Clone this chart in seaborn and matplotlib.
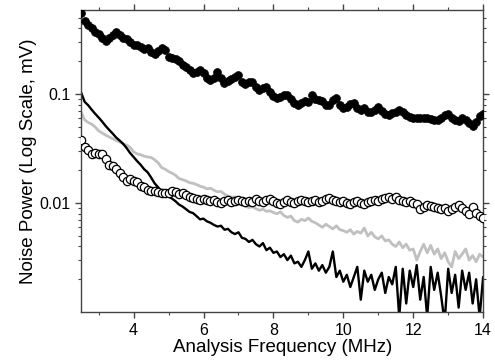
import numpy as np
import pandas as pd
import matplotlib
matplotlib.use('Agg')
import matplotlib.pyplot as plt
import matplotlib.ticker as mticker
import seaborn as sns

sns.set_theme(style='ticks')
plt.rcParams['font.family'] = ['Liberation Sans', 'DejaVu Sans']
plt.rcParams['text.color'] = 'black'
plt.rcParams['axes.labelcolor'] = 'black'

# analysis frequency sweep (MHz), 0.1 MHz steps
freq = np.round(np.arange(2.5, 14.01, 0.1), 1)

# noise power (mV)
filled_pts = [0.56, 0.47, 0.43, 0.40, 0.375, 0.355, 0.33, 0.31, 0.33, 0.35,
              0.375, 0.345, 0.33, 0.32, 0.30, 0.285, 0.28, 0.27, 0.26, 0.265,
              0.245, 0.235, 0.25, 0.265, 0.255, 0.22, 0.215, 0.21, 0.20, 0.185,
              0.178, 0.165, 0.156, 0.16, 0.165, 0.155, 0.14, 0.135, 0.14, 0.16,
              0.14, 0.126, 0.132, 0.138, 0.145, 0.15, 0.13, 0.125, 0.13, 0.128,
              0.115, 0.108, 0.114, 0.117, 0.105, 0.097, 0.092, 0.095, 0.099, 0.098,
              0.09, 0.083, 0.079, 0.083, 0.086, 0.084, 0.098, 0.091, 0.089, 0.087,
              0.08, 0.08, 0.088, 0.093, 0.08, 0.074, 0.076, 0.081, 0.083, 0.075,
              0.071, 0.074, 0.069, 0.068, 0.072, 0.076, 0.07, 0.066, 0.064, 0.067,
              0.068, 0.071, 0.068, 0.064, 0.062, 0.061, 0.061, 0.06, 0.06, 0.061,
              0.059, 0.058, 0.058, 0.061, 0.065, 0.066, 0.06, 0.058, 0.057, 0.06,
              0.058, 0.054, 0.051, 0.056, 0.063, 0.066]

open_pts = [0.038, 0.033, 0.031, 0.0285, 0.029, 0.0285, 0.028, 0.0255, 0.0225, 0.022,
            0.0205, 0.019, 0.0175, 0.016, 0.0168, 0.016, 0.0155, 0.0145, 0.014, 0.0133,
            0.013, 0.0129, 0.0127, 0.0124, 0.0123, 0.0125, 0.0128, 0.0127, 0.0122, 0.0123,
            0.0118, 0.0114, 0.0112, 0.011, 0.0107, 0.0108, 0.0106, 0.0104, 0.0107, 0.0103,
            0.01, 0.0104, 0.0106, 0.0103, 0.0105, 0.0107, 0.0104, 0.0102, 0.0105, 0.0103,
            0.0108, 0.0105, 0.0102, 0.0106, 0.011, 0.0104, 0.0101, 0.0099, 0.0103, 0.0106,
            0.0103, 0.0101, 0.0104, 0.0106, 0.0104, 0.0102, 0.0105, 0.0107, 0.0103, 0.0105,
            0.0108, 0.0112, 0.0107, 0.0104, 0.0103, 0.0104, 0.0101, 0.0099, 0.0102, 0.0104,
            0.0101, 0.0099, 0.0102, 0.0104, 0.0106, 0.0104, 0.0108, 0.0111, 0.0113, 0.0109,
            0.0114, 0.0107, 0.0104, 0.0102, 0.0105, 0.0101, 0.0098, 0.0089, 0.0092, 0.0097,
            0.0095, 0.0093, 0.009, 0.0088, 0.0091, 0.0084, 0.0089, 0.0093, 0.0096, 0.009,
            0.0085, 0.0079, 0.0093, 0.0082, 0.0076, 0.0073]

gray_line = [0.068, 0.058, 0.055, 0.053, 0.05, 0.046, 0.044, 0.042, 0.0405, 0.039,
             0.0375, 0.0365, 0.035, 0.034, 0.0325, 0.0295, 0.0283, 0.0278, 0.027, 0.0265,
             0.0262, 0.025, 0.0235, 0.0212, 0.0205, 0.0195, 0.0188, 0.018, 0.0168, 0.0164,
             0.016, 0.0154, 0.0152, 0.0148, 0.0143, 0.014, 0.0135, 0.0137, 0.0131, 0.0127,
             0.0128, 0.0121, 0.0116, 0.0113, 0.0114, 0.0108, 0.0101, 0.0094, 0.0091, 0.0093,
             0.0089, 0.0086, 0.0088, 0.0084, 0.0085, 0.0082, 0.008, 0.0083, 0.0077, 0.0074,
             0.0076, 0.0069, 0.0067, 0.0071, 0.0069, 0.0073, 0.0068, 0.0066, 0.0063, 0.006,
             0.0064, 0.0061, 0.0058, 0.0062, 0.0057, 0.0056, 0.0054, 0.0057, 0.0052, 0.0055,
             0.0053, 0.0059, 0.005, 0.0054, 0.0049, 0.0047, 0.005, 0.0045, 0.0046, 0.0042,
             0.004, 0.0044, 0.0039, 0.0042, 0.0037, 0.0038, 0.003, 0.0036, 0.0042, 0.0035,
             0.0041, 0.0034, 0.0038, 0.0031, 0.0035, 0.0029, 0.0026, 0.0036, 0.0031, 0.0034,
             0.0038, 0.003, 0.0033, 0.0029, 0.0034, 0.0032]

black_line = [0.103, 0.085, 0.079, 0.072, 0.066, 0.061, 0.056, 0.051, 0.047, 0.0435,
              0.04, 0.0375, 0.035, 0.032, 0.0288, 0.0265, 0.0243, 0.0225, 0.0205, 0.0192,
              0.0172, 0.0152, 0.014, 0.0128, 0.0122, 0.0115, 0.011, 0.0104, 0.0097, 0.0093,
              0.0088, 0.0083, 0.0081, 0.0076, 0.0071, 0.0072, 0.0068, 0.0066, 0.0063, 0.0061,
              0.0062, 0.0057, 0.0058, 0.0054, 0.0052, 0.0054, 0.0048, 0.0047, 0.0044, 0.0046,
              0.0042, 0.004, 0.0043, 0.0037, 0.0039, 0.0035, 0.0036, 0.0032, 0.0034, 0.003,
              0.0033, 0.0028, 0.0029, 0.0026, 0.003, 0.0036, 0.0025, 0.0028, 0.0024, 0.0027,
              0.0023, 0.0026, 0.0036, 0.0021, 0.0024, 0.0019, 0.0022, 0.0017, 0.0021, 0.0026,
              0.0013, 0.0024, 0.0019, 0.0022, 0.0016, 0.002, 0.0023, 0.0015, 0.0021, 0.0018,
              0.0026, 0.0009, 0.0025, 0.0012, 0.0024, 0.0017, 0.0027, 0.0013, 0.0021, 0.0009,
              0.0026, 0.0016, 0.0023, 0.0014, 0.0008, 0.0025, 0.0015, 0.0022, 0.0011, 0.0024,
              0.0016, 0.0023, 0.0012, 0.002, 0.0009, 0.0021]

df = pd.DataFrame({'freq': freq, 'filled': filled_pts, 'open': open_pts,
                   'gray': gray_line, 'black': black_line})

fig, ax = plt.subplots(figsize=(4.95, 3.6), dpi=100)
fig.subplots_adjust(left=0.164, right=0.976, bottom=0.133, top=0.972)

sns.lineplot(data=df, x='freq', y='gray', ax=ax, color='#c0c0c0', linewidth=2.0)
sns.lineplot(data=df, x='freq', y='black', ax=ax, color='black', linewidth=1.7)
sns.scatterplot(data=df, x='freq', y='open', ax=ax, s=36, color='white',
                edgecolor='black', linewidth=0.9, zorder=3)
sns.scatterplot(data=df, x='freq', y='filled', ax=ax, s=32, color='black',
                edgecolor='black', linewidth=0.5, zorder=3)

ax.set_yscale('log')
ax.set_xlim(2.5, 14)
ax.set_ylim(0.001, 0.59)
ax.xaxis.set_major_locator(mticker.MultipleLocator(2))
ax.xaxis.set_minor_locator(mticker.MultipleLocator(1))
ax.set_yticks([0.01, 0.1])
ax.set_yticklabels(['0.01', '0.1'])
ax.yaxis.set_minor_locator(mticker.LogLocator(base=10, subs=np.arange(2, 10)))
ax.yaxis.set_minor_formatter(mticker.NullFormatter())

for sp in ax.spines.values():
    sp.set_visible(True)
    sp.set_color('#444444')
    sp.set_linewidth(1.0)
ax.tick_params(which='both', direction='out', top=True, right=True,
               color='#444444', labelcolor='black', labelsize=11.5)
ax.tick_params(which='major', length=4, width=1)
ax.tick_params(which='minor', length=2.5, width=0.8)

ax.set_xlabel('Analysis Frequency (MHz)', fontsize=13.5, labelpad=1)
ax.set_ylabel('Noise Power (Log Scale, mV)', fontsize=13.5, labelpad=2)

plt.savefig('out.png', dpi=100)
